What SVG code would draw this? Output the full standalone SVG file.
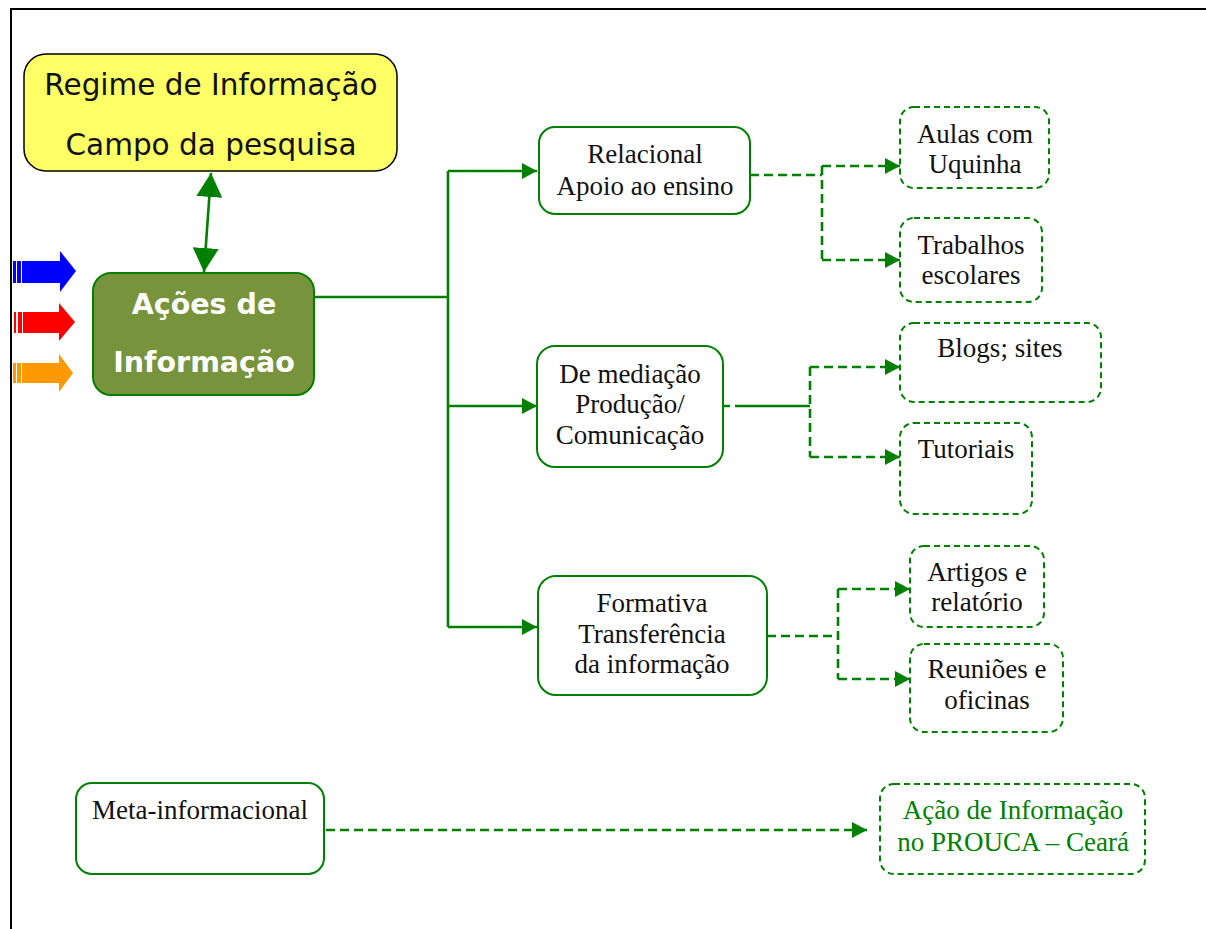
<svg xmlns="http://www.w3.org/2000/svg" width="1206" height="929" viewBox="0 0 1206 929">
<style>
.frame{stroke:#000;stroke-width:2;fill:none}
.box{fill:#fff;stroke:#008000;stroke-width:2}
.dbox{fill:#fff;stroke:#008000;stroke-width:2;stroke-dasharray:6 4}
.t{font-family:"Liberation Serif","Times New Roman",serif;font-size:27px;fill:#111;text-anchor:middle}
.v{font-family:"DejaVu Sans",Verdana,sans-serif;font-size:29.5px;fill:#111;text-anchor:middle}
.vb{font-family:"DejaVu Sans",Verdana,sans-serif;font-size:28.5px;font-weight:bold;fill:#fff;text-anchor:middle}
.c{fill:none;stroke:#008000;stroke-width:2.6}
.d{fill:none;stroke:#008000;stroke-width:2.6;stroke-dasharray:9 5}
</style>
<defs>
<marker id="ah" markerUnits="userSpaceOnUse" markerWidth="16" markerHeight="16" refX="15" refY="8" orient="auto">
<path d="M0,0 L15,8 L0,16 z" fill="#008000"/>
</marker>
<marker id="big" markerUnits="userSpaceOnUse" markerWidth="25" markerHeight="26" refX="24" refY="13" orient="auto-start-reverse">
<path d="M0,0 L24,13 L0,26 z" fill="#008000"/>
</marker>
</defs>
<rect width="1206" height="929" fill="#fff"/>
<path class="frame" d="M11,929 V9 H1206"/>

<g id="left-arrows">
<rect x="13" y="261" width="3" height="22" fill="#0000FF"/>
<rect x="17" y="261" width="4" height="22" fill="#0000FF"/>
<polygon points="22,261 60,261 60,251 76,271 60,292 60,283 22,283" fill="#0000FF"/>
<rect x="14" y="312" width="2" height="21" fill="#FF0000"/>
<rect x="18" y="312" width="4" height="21" fill="#FF0000"/>
<polygon points="23,312 59,312 59,303 75,322 59,341 59,333 23,333" fill="#FF0000"/>
<rect x="13" y="363" width="3" height="20" fill="#FF9900"/>
<rect x="17" y="363" width="4" height="20" fill="#FF9900"/>
<polygon points="22,363 59,363 59,354 73,373 59,392 59,383 22,383" fill="#FF9900"/>
</g>

<g id="connectors">
<line class="c" x1="211" y1="173" x2="204" y2="272" marker-start="url(#big)" marker-end="url(#big)"/>
<path class="c" d="M314,297 H448"/>
<path class="c" d="M448,171 V627"/>
<path class="c" d="M448,171 H537" marker-end="url(#ah)"/>
<path class="c" d="M448,406 H537" marker-end="url(#ah)"/>
<path class="c" d="M448,627 H537" marker-end="url(#ah)"/>
<path class="d" d="M750,175 H822"/>
<path class="d" d="M822,166 V260"/>
<path class="d" d="M822,166 H900" marker-end="url(#ah)"/>
<path class="d" d="M822,260 H900" marker-end="url(#ah)"/>
<path class="c" d="M723,406 H730 M735,406 H810"/>
<path class="d" d="M810,367 V457"/>
<path class="d" d="M810,367 H900" marker-end="url(#ah)"/>
<path class="d" d="M810,457 H900" marker-end="url(#ah)"/>
<path class="d" d="M767,636 H838"/>
<path class="d" d="M838,589 V679"/>
<path class="d" d="M838,589 H910" marker-end="url(#ah)"/>
<path class="d" d="M838,679 H910" marker-end="url(#ah)"/>
<path class="d" d="M326,830 H867" marker-end="url(#ah)"/>
</g>

<g id="regime">
<rect x="24" y="54" width="373" height="117" rx="22" fill="#FFFF66" stroke="#000" stroke-width="1.5"/>
<text class="v" x="211" y="95">Regime de Informação</text>
<text class="v" x="211" y="155">Campo da pesquisa</text>
</g>

<g id="acoes">
<rect x="93" y="273" width="221" height="122" rx="18" fill="#77933C" stroke="#008000" stroke-width="2"/>
<text class="vb" x="204" y="314">Ações de</text>
<text class="vb" x="204" y="372">Informação</text>
</g>

<g id="relacional">
<rect class="box" x="539" y="127" width="211" height="87" rx="16"/>
<text class="t" x="645" y="163">Relacional</text>
<text class="t" x="645" y="195">Apoio ao ensino</text>
</g>

<g id="mediacao">
<rect class="box" x="537" y="346" width="186" height="121" rx="18"/>
<text class="t" x="630" y="383">De mediação</text>
<text class="t" x="630" y="413">Produção/</text>
<text class="t" x="630" y="444">Comunicação</text>
</g>

<g id="formativa">
<rect class="box" x="538" y="576" width="229" height="119" rx="18"/>
<text class="t" x="652" y="612">Formativa</text>
<text class="t" x="652" y="643">Transferência</text>
<text class="t" x="652" y="673">da informação</text>
</g>

<g id="aulas">
<rect class="dbox" x="900" y="107" width="149" height="81" rx="14"/>
<text class="t" x="975" y="143">Aulas com</text>
<text class="t" x="975" y="173">Uquinha</text>
</g>

<g id="trabalhos">
<rect class="dbox" x="900" y="218" width="142" height="84" rx="14"/>
<text class="t" x="971" y="254">Trabalhos</text>
<text class="t" x="971" y="284">escolares</text>
</g>

<g id="blogs">
<rect class="dbox" x="900" y="323" width="201" height="79" rx="14"/>
<text class="t" x="1000" y="357">Blogs; sites</text>
</g>

<g id="tutoriais">
<rect class="dbox" x="900" y="423" width="132" height="91" rx="14"/>
<text class="t" x="966" y="458">Tutoriais</text>
</g>

<g id="artigos">
<rect class="dbox" x="910" y="546" width="134" height="81" rx="14"/>
<text class="t" x="977" y="581">Artigos e</text>
<text class="t" x="977" y="611">relatório</text>
</g>

<g id="reunioes">
<rect class="dbox" x="910" y="644" width="153" height="88" rx="14"/>
<text class="t" x="987" y="678">Reuniões e</text>
<text class="t" x="987" y="709">oficinas</text>
</g>

<g id="meta">
<rect class="box" x="76" y="783" width="248" height="91" rx="16"/>
<text class="t" x="200" y="819">Meta-informacional</text>
</g>

<g id="prouca">
<rect class="dbox" x="880" y="784" width="265" height="90" rx="14"/>
<text class="t" x="1013" y="819" style="fill:#008000">Ação de Informação</text>
<text class="t" x="1013" y="851" style="fill:#008000">no PROUCA – Ceará</text>
</g>
</svg>
